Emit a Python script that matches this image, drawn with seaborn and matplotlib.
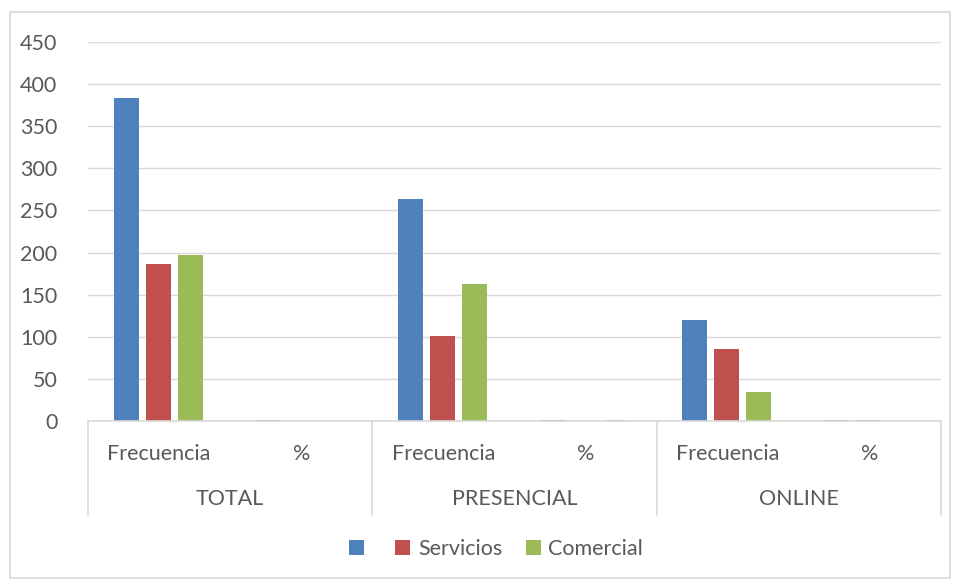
import matplotlib
matplotlib.use("Agg")
import matplotlib.pyplot as plt
import seaborn as sns
import pandas as pd
from matplotlib.patches import Rectangle, Patch
from matplotlib.lines import Line2D

groups = ["TOTAL", "PRESENCIAL", "ONLINE"]
subcats = ["Frecuencia", "%"]
series = ["", "Servicios", "Comercial"]
# values per series, in order: TOTAL Frec, TOTAL %, PRES Frec, PRES %, ONLINE Frec, ONLINE %
total_vals = [384, 1.00, 264, 1.00, 120, 1.00]
servicios_vals = [187, 0.49, 101, 0.38, 86, 0.72]
comercial_vals = [197, 0.51, 163, 0.62, 34, 0.28]
colors = ["#4F81BD", "#C0504D", "#9BBB59"]

keys = [f"{g}|{s}" for g in groups for s in subcats]
rows = []
for name, vals in zip(series, [total_vals, servicios_vals, comercial_vals]):
    for k, v in zip(keys, vals):
        rows.append({"cat": k, "serie": name, "valor": v})
df = pd.DataFrame(rows)

sns.set_theme(style="white")
plt.rcParams["font.family"] = ["Lato", "DejaVu Sans"]
txt = "#595959"
fs = 15.5

W, H = 959, 582
fig = plt.figure(figsize=(W / 100, H / 100), dpi=100)
ax = fig.add_axes([88 / W, (H - 421) / H, (941 - 88) / W, (421 - 42) / H])

sns.barplot(data=df, x="cat", y="valor", hue="serie", order=keys,
            hue_order=series, palette=colors, width=0.675, ax=ax,
            legend=False, saturation=1, errorbar=None)

for p in ax.patches:
    w = p.get_width()
    nw = w * 25 / 32
    p.set_x(p.get_x() + (w - nw) / 2 - 0.007)
    p.set_width(nw)
    p.set_linewidth(0)

ax.set_ylim(0, 450)
ax.set_xlim(-0.5, len(keys) - 0.5)
ax.set_yticks(range(0, 451, 50))
ax.yaxis.grid(True, color="#D9D9D9", linewidth=1)
ax.set_axisbelow(True)
for s in ["top", "right", "left"]:
    ax.spines[s].set_visible(False)
ax.spines["bottom"].set_color("#D9D9D9")
ax.spines["bottom"].set_linewidth(1.2)
ax.tick_params(axis="y", length=0, labelsize=fs, labelcolor=txt, pad=22)
ax.set_xticks([])
ax.set_xlabel("")
ax.set_ylabel("")

xtr = ax.get_xaxis_transform()
sub_y = (421 - 454) / (421 - 42)
grp_y = (421 - 499) / (421 - 42)
sep_bottom = (421 - 515) / (421 - 42)
for i, k in enumerate(keys):
    ax.text(i, sub_y, k.split("|")[1], transform=xtr, ha="center", va="center",
            fontsize=fs, color=txt)
for gi, g in enumerate(groups):
    ax.text(gi * 2 + 0.5, grp_y, g, transform=xtr, ha="center", va="center",
            fontsize=fs, color=txt)
for xs in [-0.5, 1.5, 3.5, 5.5]:
    ax.add_line(Line2D([xs, xs], [0, sep_bottom], transform=xtr, color="#D9D9D9",
                       linewidth=1.2, clip_on=False))

handles = [Patch(facecolor=c, edgecolor="none") for c in colors]
fig.legend(handles, series, loc="center", bbox_to_anchor=(496 / W, 33 / H),
           ncol=3, frameon=False, fontsize=fs, labelcolor=txt,
           handlelength=0.7, handleheight=0.7, handletextpad=0.35,
           columnspacing=1.1)

fig.patches.append(Rectangle((10 / W, 4 / H), 940 / W, 566 / H, transform=fig.transFigure,
                             fill=False, edgecolor="#D9D9D9", linewidth=1.2))

fig.savefig("out.png", dpi=100)
